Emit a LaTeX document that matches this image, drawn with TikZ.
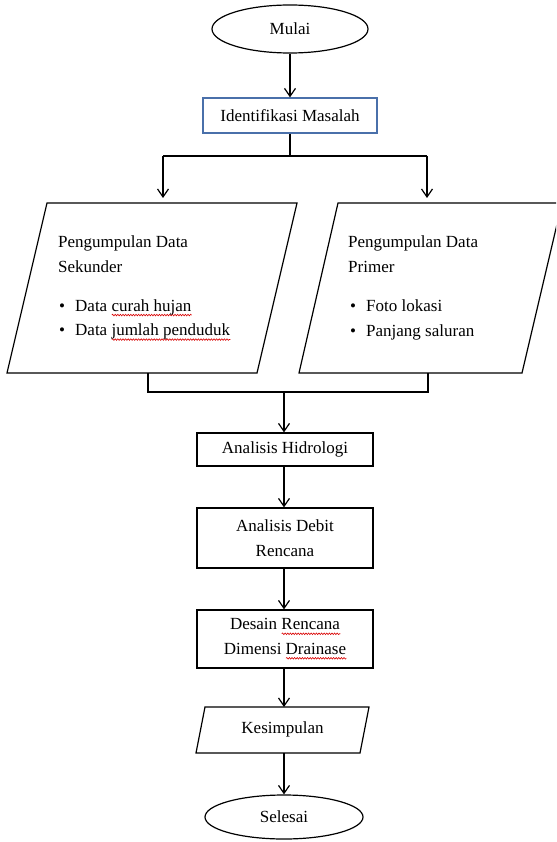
\documentclass[tikz,border=0pt]{standalone}
\usepackage{fontspec}
\setmainfont{Liberation Serif}
\usetikzlibrary{arrows.meta,shapes.geometric,decorations.pathmorphing}
\definecolor{idblue}{RGB}{74,112,170}
\newsavebox\wavebox
\newcommand\redwave[1]{\sbox\wavebox{#1}\rlap{\raisebox{-5pt}{\tikz\draw[red!85!black, line width=0.6pt, decorate, decoration={snake, amplitude=0.8pt, segment length=2.6pt}] (0pt,0pt) -- (\wd\wavebox,0pt);}}\usebox\wavebox}
\newcommand\bul{\makebox[16pt][l]{\textbullet}}
\tikzset{
  line/.style={line width=1.2pt},
  arr/.style={line, -{Straight Barb[length=8pt,width=11pt,line width=1.2pt]}},
  term/.style={ellipse, draw, line, inner sep=0pt},
  procbox/.style={draw, line, minimum width=176pt, inner sep=0pt, align=center},
  txt/.style={inner sep=0pt, align=left, anchor=west},
}
\begin{document}
\begin{tikzpicture}[x=1pt,y=-1pt,font=\fontsize{17}{24.5}\selectfont]
\useasboundingbox (0,0) rectangle (556,842);
\clip (0,0) rectangle (556,842);

% start
\node[term, minimum width=156pt, minimum height=48pt] (mulai) at (290,29) {Mulai};
\node[procbox, draw=idblue, minimum width=174pt, minimum height=35pt] (ident) at (290,115.5) {Identifikasi Masalah};
\draw[arr] (mulai) -- (ident);

% split
\coordinate (split) at (290,156);
\coordinate (lt) at (163,156);
\coordinate (rt) at (427,156);
\coordinate (secTop) at (163,203);
\coordinate (priTop) at (427,203);
\draw[line] (ident.south) -- (split);
\draw[line] (lt) -- (rt);
\draw[arr, shorten >=5pt] (lt) -- (secTop);
\draw[arr, shorten >=5pt] (rt) -- (priTop);

% data parallelograms
\draw[line, fill=white] (47,203) -- (297,203) -- (257,373) -- (7,373) -- cycle;
\draw[line, fill=white] (338,203) -- (562,203) -- (522,373) -- (299,373) -- cycle;

\node[txt] (secHead) at (58,254) {Pengumpulan Data\\Sekunder};
\node[txt] (secList) at (59,320) {\bul Data \redwave{curah hujan}\\\bul Data \redwave{jumlah penduduk}};
\node[txt] (priHead) at (348,254) {Pengumpulan Data\\Primer};
\node[txt] (priList) at (350,320) {\bul Foto lokasi\\\bul Panjang saluran};

% merge
\coordinate (secBot) at (148,373);
\coordinate (priBot) at (428,373);
\coordinate (ml) at (148,392);
\coordinate (mr) at (428,392);
\coordinate (mm) at (284,392);
\draw[line] (secBot) -- (ml) -- (mr) -- (priBot);

% process chain
\node[procbox, minimum height=33pt] (hid) at (285,449.5) {Analisis Hidrologi};
\node[procbox, minimum height=60pt] (debit) at (285,538) {Analisis Debit\\Rencana};
\node[procbox, minimum height=58pt] (desain) at (285,639) {Desain \redwave{Rencana}\\Dimensi \redwave{Drainase}};

\draw[arr] (mm) -- (mm |- hid.north);
\draw[arr] (hid.south -| mm) -- (debit.north -| mm);
\draw[arr] (debit.south -| mm) -- (desain.north -| mm);

% conclusion
\draw[line, fill=white] (205,707) -- (369,707) -- (360,753) -- (196,753) -- cycle;
\node[inner sep=0pt] (kes) at (282.5,729) {Kesimpulan};
\coordinate (kesTop) at (284,707);
\coordinate (kesBot) at (284,753);
\draw[arr] (desain.south -| mm) -- (kesTop);

\node[term, minimum width=158pt, minimum height=44pt] (selesai) at (284,817) {Selesai};
\draw[arr] (kesBot) -- (selesai.north);
\end{tikzpicture}
\end{document}
